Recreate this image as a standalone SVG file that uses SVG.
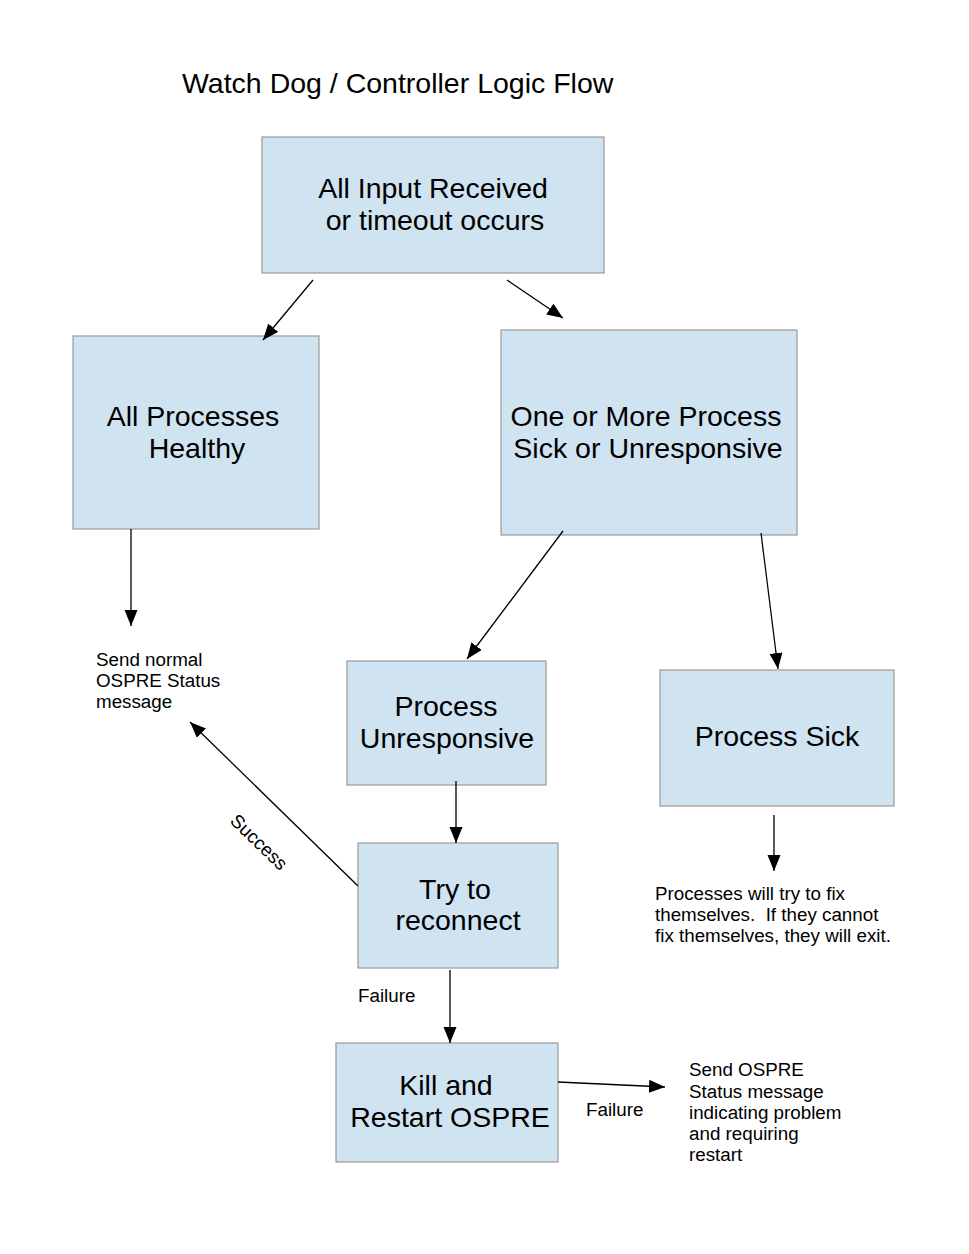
<svg xmlns="http://www.w3.org/2000/svg" width="969" height="1254" viewBox="0 0 969 1254">
<style>
.box{fill:#cfe3f1;stroke:#9a9a9a;stroke-width:1.2}
.big{font-family:"Liberation Sans",Arial,sans-serif;font-size:28.5px;fill:#000;text-anchor:middle}
.sm{font-family:"Liberation Sans",Arial,sans-serif;font-size:18.8px;fill:#000;white-space:pre}
.title{font-family:"Liberation Sans",Arial,sans-serif;font-size:28.5px;fill:#000}
.c{stroke:#000;stroke-width:1.3;fill:none;marker-end:url(#ah)}
</style>
<defs>
<marker id="ah" markerUnits="userSpaceOnUse" markerWidth="18" markerHeight="14" refX="16" refY="6.5" orient="auto">
<path d="M0,0 L16,6.5 L0,13 z" fill="#000"/>
</marker>
</defs>
<rect width="969" height="1254" fill="#fff"/>
<text class="title" x="182" y="93">Watch Dog / Controller Logic Flow</text>

<g id="n1"><rect class="box" x="262" y="137" width="342" height="136"/>
<text class="big" x="433" y="198">All Input Received</text><text class="big" x="435" y="230">or timeout occurs</text></g>
<g id="n2"><rect class="box" x="73" y="336" width="246" height="193"/>
<text class="big" x="193" y="426">All Processes</text><text class="big" x="197" y="458">Healthy</text></g>
<g id="n3"><rect class="box" x="501" y="330" width="296" height="205"/>
<text class="big" x="646" y="426">One or More Process</text><text class="big" x="648" y="458">Sick or Unresponsive</text></g>
<g id="n4"><text class="sm" x="96" y="666">Send normal</text><text class="sm" x="96" y="687">OSPRE Status</text><text class="sm" x="96" y="708">message</text></g>
<g id="n5"><rect class="box" x="347" y="661" width="199" height="124"/>
<text class="big" x="446" y="716">Process</text><text class="big" x="447" y="748">Unresponsive</text></g>
<g id="n6"><rect class="box" x="660" y="670" width="234" height="136"/>
<text class="big" x="777" y="746">Process Sick</text></g>
<g id="n7"><text class="sm" x="655" y="900">Processes will try to fix</text><text class="sm" x="655" y="921">themselves.  If they cannot</text><text class="sm" x="655" y="942">fix themselves, they will exit.</text></g>
<g id="n8"><rect class="box" x="358" y="843" width="200" height="125"/>
<text class="big" x="455" y="899">Try to</text><text class="big" x="458" y="930">reconnect</text></g>
<g id="n9"><rect class="box" x="336" y="1043" width="222" height="119"/>
<text class="big" x="446" y="1095">Kill and</text><text class="big" x="450" y="1127">Restart OSPRE</text></g>
<g id="n10"><text class="sm" x="689" y="1076">Send OSPRE</text><text class="sm" x="689" y="1098">Status message</text><text class="sm" x="689" y="1119">indicating problem</text><text class="sm" x="689" y="1140">and requiring</text><text class="sm" x="689" y="1161">restart</text></g>

<g id="connectors">
<line class="c" x1="313" y1="280" x2="263" y2="340"/>
<line class="c" x1="507" y1="280" x2="563" y2="318"/>
<line class="c" x1="131" y1="529" x2="131" y2="626"/>
<line class="c" x1="563" y1="531" x2="467" y2="659"/>
<line class="c" x1="761" y1="533" x2="778" y2="669"/>
<line class="c" x1="774" y1="815" x2="774" y2="871"/>
<line class="c" x1="456" y1="781" x2="456" y2="843"/>
<line class="c" x1="358" y1="886" x2="190" y2="722"/>
<line class="c" x1="450" y1="970" x2="450" y2="1043"/>
<line class="c" x1="558" y1="1082" x2="665" y2="1087"/>
<text class="sm" x="0" y="0" transform="translate(229,822) rotate(44)">Success</text>
<text class="sm" x="358" y="1002">Failure</text>
<text class="sm" x="586" y="1116">Failure</text>
</g>
</svg>
